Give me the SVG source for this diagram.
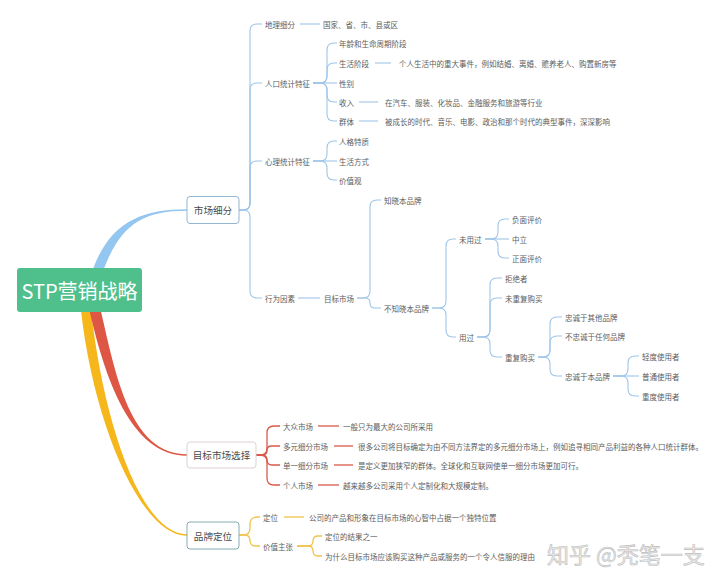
<svg xmlns="http://www.w3.org/2000/svg" width="720" height="580" viewBox="0 0 720 580">
<style>
text{font-family:"Noto Sans CJK SC","Noto Sans",sans-serif;dominant-baseline:central}
.t{font-size:7.5px;fill:#5c5c5c}
.n1{font-size:9.6px;fill:#4a4a4a;text-anchor:middle}
.cb{fill:none;stroke:#9fc5e8;stroke-width:1.1}
.cr{fill:none;stroke:#d95a4b;stroke-width:1.3}
.cy{fill:none;stroke:#efc44e;stroke-width:1.3}
.box{fill:#fff;stroke-width:1}
</style>
<rect width="720" height="580" fill="#fff"/>
<g id="connectors">
<path d="M93.3,268.2 C110.3,223.2 140,209.2 187,209.2 L187,210.8 C140,210.8 119.7,226.8 102.7,271.8 Z" fill="#93c6f0"/>
<path d="M81,310.5 C93,420.5 140,535.8 187,535.8 L187,534.2 C140,534.2 103,419.5 91,309.5 Z" fill="#f6b71c"/>
<path d="M89.5,310.8 C104.5,375.8 130,455.8 187,455.8 L187,454.2 C130,454.2 115.5,374.2 100.5,309.2 Z" fill="#de5744"/>
<g class="cb">
<path d="M239,210 H243 Q250,210 250,203 V31 Q250,24 257,24 H262"/>
<path d="M239,210 H243 Q250,210 250,203 V90 Q250,83 257,83 H262"/>
<path d="M239,210 H243 Q250,210 250,203 V168 Q250,161 257,161 H262"/>
<path d="M239,210 H243 Q250,210 250,217 V291 Q250,298 257,298 H262"/>
<path d="M300,24 H320"/>
<path d="M313,83 H320 Q327,83 327,76 V50 Q327,43 334,43 H337"/>
<path d="M313,83 H320 Q327,83 327,76 V70 Q327,63 334,63 H337"/>
<path d="M313,83 H337"/>
<path d="M313,83 H320 Q327,83 327,90 V95 Q327,102 334,102 H337"/>
<path d="M313,83 H320 Q327,83 327,90 V114 Q327,121 334,121 H337"/>
<path d="M375,63 H391"/>
<path d="M359,102 H378"/>
<path d="M359,121 H378"/>
<path d="M313,161 H320 Q327,161 327,154 V148 Q327,141 334,141 H337"/>
<path d="M313,161 H337"/>
<path d="M313,161 H320 Q327,161 327,168 V173 Q327,180 334,180 H337"/>
<path d="M298,298 H320"/>
<path d="M357,298 H363 Q370,298 370,291 V207 Q370,200 377,200 H381"/>
<path d="M357,298 H365 Q370,298 370,303 Q370,308 375,308 H381"/>
<path d="M432,308 H439 Q446,308 446,301 V246 Q446,239 453,239 H456"/>
<path d="M432,308 H439 Q446,308 446,315 V330 Q446,337 453,337 H456"/>
<path d="M485,239 H491 Q498,239 498,232 V226 Q498,219 505,219 H509"/>
<path d="M485,239 H509"/>
<path d="M485,239 H491 Q498,239 498,246 V251 Q498,258 505,258 H509"/>
<path d="M477,337 H483 Q490,337 490,330 V285 Q490,278 497,278 H502"/>
<path d="M477,337 H483 Q490,337 490,330 V305 Q490,298 497,298 H502"/>
<path d="M477,337 H483 Q490,337 490,344 V350 Q490,357 497,357 H502"/>
<path d="M538,357 H543 Q550,357 550,350 V324 Q550,317 557,317 H562"/>
<path d="M538,357 H543 Q550,357 550,350 V343 Q550,336 557,336 H562"/>
<path d="M538,357 H543 Q550,357 550,364 V369 Q550,376 557,376 H562"/>
<path d="M613,376 H621 Q628,376 628,369 V363 Q628,356 635,356 H639"/>
<path d="M613,376 H639"/>
<path d="M613,376 H621 Q628,376 628,383 V389 Q628,396 635,396 H639"/>
</g>
<g class="cr">
<path d="M256,455 H260 Q267,455 267,448 V433 Q267,426 274,426 H280"/>
<path d="M256,455 H262.5 Q267,455 267,450.5 Q267,446 271.5,446 H280"/>
<path d="M256,455 H262 Q267,455 267,460 Q267,465 272,465 H280"/>
<path d="M256,455 H260 Q267,455 267,462 V478 Q267,485 274,485 H280"/>
<path d="M318,426 H339"/>
<path d="M334,446 H353"/>
<path d="M334,465 H353"/>
<path d="M318,485 H339"/>
</g>
<g class="cy">
<path d="M239,535 H243 Q250,535 250,528 V524 Q250,517 257,517 H260"/>
<path d="M239,535 H244.5 Q250,535 250,540.5 Q250,546 255.5,546 H260"/>
<path d="M284,517 H304"/>
<path d="M297,546 H308 Q313,546 313,541 Q313,536 318,536 H322"/>
<path d="M297,546 H308 Q313,546 313,551 Q313,556 318,556 H322"/>
</g>
</g>
<g id="root">
<rect x="17" y="268" width="125" height="44" rx="3" fill="#4fbf8b"/>
<text x="79.5" y="290" font-size="20" fill="#fff" text-anchor="middle">STP营销战略</text>
</g>
<g id="n-shichangxifen">
<rect class="box" x="187" y="196.5" width="52" height="27" rx="3" stroke="#93b6d2"/>
<text class="n1" x="213" y="210">市场细分</text>
</g>
<g id="n-mubiaoshichangxuanze">
<rect class="box" x="187" y="442" width="69" height="26" rx="3" stroke="#ddd3d3"/>
<text class="n1" x="221.5" y="455">目标市场选择</text>
</g>
<g id="n-pinpaidingwei">
<rect class="box" x="187" y="522" width="52" height="27" rx="3" stroke="#86adb3"/>
<text class="n1" x="213" y="535.5">品牌定位</text>
</g>
<g id="n-dili" class="t"><text x="265" y="24">地理细分</text><text x="323" y="24">国家、省、市、县或区</text></g>
<g id="n-renkou" class="t"><text x="265" y="83">人口统计特征</text></g>
<g id="n-nianling" class="t"><text x="339" y="43">年龄和生命周期阶段</text></g>
<g id="n-shenghuojieduan" class="t"><text x="339" y="63">生活阶段</text><text x="399" y="63">个人生活中的重大事件，例如结婚、离婚、赡养老人、购置新房等</text></g>
<g id="n-xingbie" class="t"><text x="339" y="83">性别</text></g>
<g id="n-shouru" class="t"><text x="339" y="102">收入</text><text x="385" y="102">在汽车、服装、化妆品、金融服务和旅游等行业</text></g>
<g id="n-qunti" class="t"><text x="339" y="121">群体</text><text x="385" y="121">被成长的时代、音乐、电影、政治和那个时代的典型事件，深深影响</text></g>
<g id="n-xinli" class="t"><text x="265" y="161">心理统计特征</text></g>
<g id="n-renge" class="t"><text x="339" y="141">人格特质</text></g>
<g id="n-shenghuofangshi" class="t"><text x="339" y="161">生活方式</text></g>
<g id="n-jiazhiguan" class="t"><text x="339" y="180">价值观</text></g>
<g id="n-xingwei" class="t"><text x="265" y="298">行为因素</text></g>
<g id="n-mubiaoshichang" class="t"><text x="324" y="298">目标市场</text></g>
<g id="n-zhixiao" class="t"><text x="384" y="200">知晓本品牌</text></g>
<g id="n-buzhixiao" class="t"><text x="384" y="308">不知晓本品牌</text></g>
<g id="n-weiyongguo" class="t"><text x="459" y="239">未用过</text></g>
<g id="n-yongguo" class="t"><text x="459" y="337">用过</text></g>
<g id="n-fumian" class="t"><text x="512" y="219">负面评价</text></g>
<g id="n-zhongli" class="t"><text x="512" y="239">中立</text></g>
<g id="n-zhengmian" class="t"><text x="512" y="258">正面评价</text></g>
<g id="n-jujue" class="t"><text x="505" y="278">拒绝者</text></g>
<g id="n-weichongfu" class="t"><text x="505" y="298">未重复购买</text></g>
<g id="n-chongfu" class="t"><text x="505" y="357">重复购买</text></g>
<g id="n-zhongchengqita" class="t"><text x="565" y="317">忠诚于其他品牌</text></g>
<g id="n-buzhongcheng" class="t"><text x="565" y="336">不忠诚于任何品牌</text></g>
<g id="n-zhongchengben" class="t"><text x="565" y="376">忠诚于本品牌</text></g>
<g id="n-qingdu" class="t"><text x="642" y="356">轻度使用者</text></g>
<g id="n-putong" class="t"><text x="642" y="376">普通使用者</text></g>
<g id="n-zhongdu" class="t"><text x="642" y="396">重度使用者</text></g>
<g id="n-dazhong" class="t"><text x="283" y="426">大众市场</text><text x="343" y="426">一般只为最大的公司所采用</text></g>
<g id="n-duoyuan" class="t"><text x="283" y="446">多元细分市场</text><text x="358" y="446">很多公司将目标确定为由不同方法界定的多元细分市场上，例如追寻相同产品利益的各种人口统计群体。</text></g>
<g id="n-danyi" class="t"><text x="283" y="465">单一细分市场</text><text x="358" y="465">是定义更加狭窄的群体。全球化和互联网使单一细分市场更加可行。</text></g>
<g id="n-geren" class="t"><text x="283" y="485">个人市场</text><text x="343" y="485">越来越多公司采用个人定制化和大规模定制。</text></g>
<g id="n-dingwei" class="t"><text x="263" y="517">定位</text><text x="309" y="517">公司的产品和形象在目标市场的心智中占据一个独特位置</text></g>
<g id="n-jiazhizhuzhang" class="t"><text x="263" y="546">价值主张</text></g>
<g id="n-jieguo" class="t"><text x="325" y="536">定位的结果之一</text></g>
<g id="n-liyou" class="t"><text x="325" y="556">为什么目标市场应该购买这种产品或服务的一个令人信服的理由</text></g>
<text x="547" y="553" font-size="22" fill="#ececec" stroke="#bdbdbd" stroke-width="0.6">知乎 @秃笔一支</text>
</svg>
